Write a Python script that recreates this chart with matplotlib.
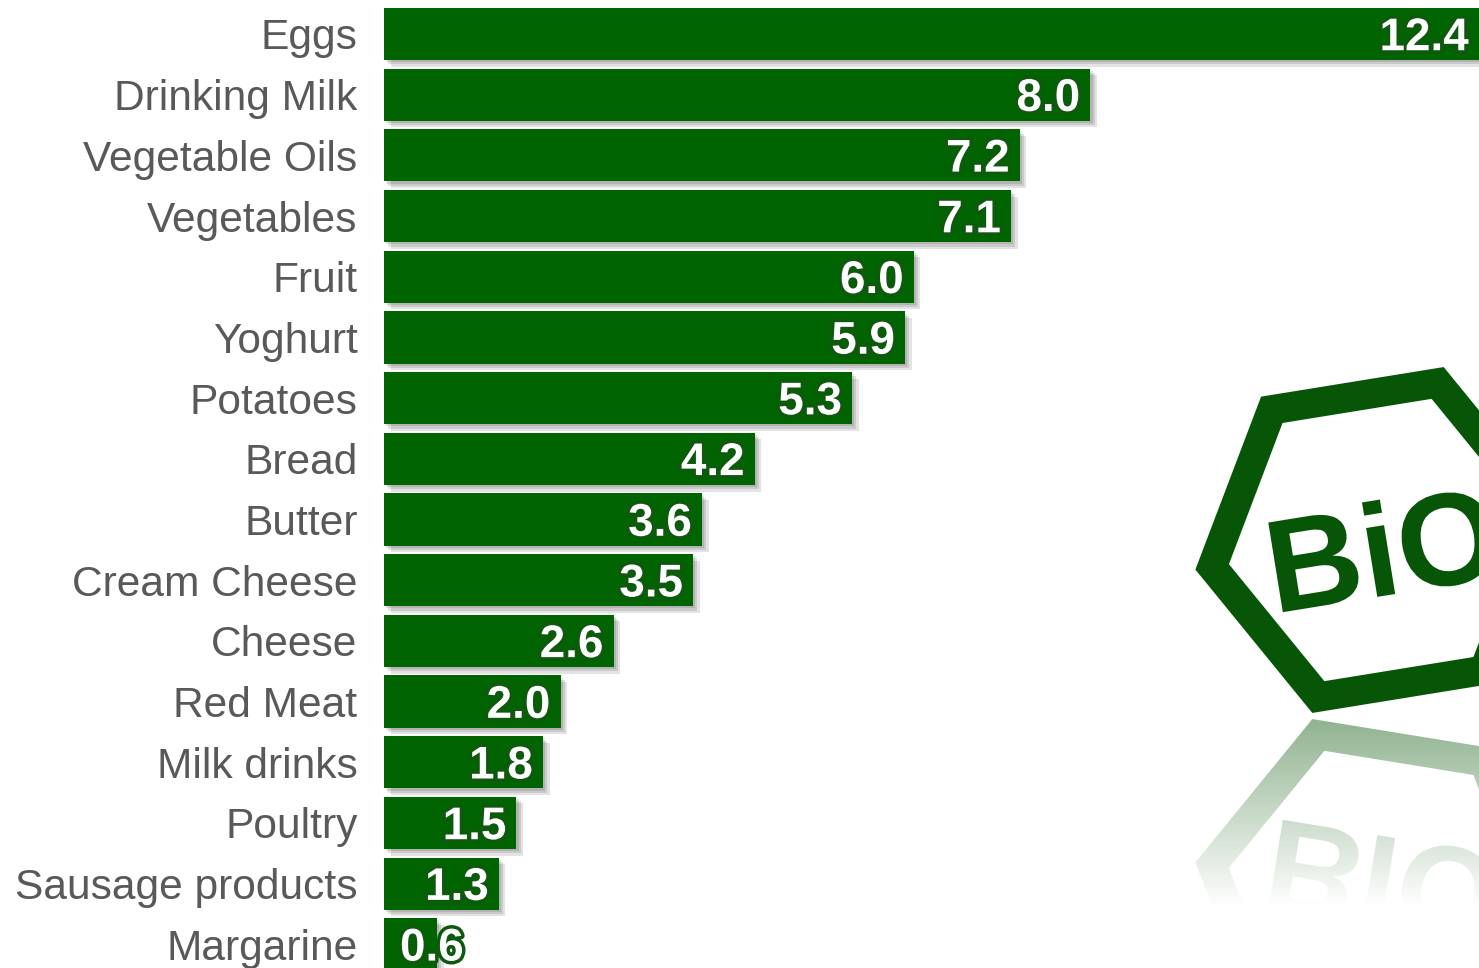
import numpy as np
import matplotlib.pyplot as plt
import matplotlib.patheffects as pe
from matplotlib.patches import PathPatch, Rectangle
from matplotlib.path import Path
from matplotlib.textpath import TextPath
from matplotlib.font_manager import FontProperties
from matplotlib.transforms import Affine2D

foods = ["Eggs", "Drinking Milk", "Vegetable Oils", "Vegetables", "Fruit", "Yoghurt",
         "Potatoes", "Bread", "Butter", "Cream Cheese", "Cheese", "Red Meat",
         "Milk drinks", "Poultry", "Sausage products", "Margarine"]
amounts = [12.4, 8.0, 7.2, 7.1, 6.0, 5.9, 5.3, 4.2, 3.6, 3.5, 2.6, 2.0, 1.8, 1.5, 1.3, 0.6]

bar_green = "#006400"
logo_green = "#075507"
W, H = 1479, 968

plt.rcParams['font.family'] = ['Liberation Sans', 'DejaVu Sans']
fig = plt.figure(figsize=(W / 100, H / 100), dpi=100)

# --- bars ---
ax = fig.add_axes([384 / W, 0, 1 - 384 / W, 1])
ax.patch.set_visible(False)
y = np.arange(len(foods))
vals = np.array(amounts)
px_x = 12.4 / (W - 384)   # data units per pixel
px_y = 1 / 60.7
for k in range(3):
    d = (k + 1) * 2.2
    ax.barh(y + d * px_y, vals, left=d * px_x, height=0.86,
            color="black", alpha=0.11, lw=0)
ax.barh(y, vals, height=0.86, color=bar_green, lw=0)

for i, v in enumerate(amounts):
    if v < 1.0:
        x, ha = 16 * px_x, "left"
    else:
        x, ha = v - 10 * px_x, "right"
    ax.text(x, i + 0.07, f"{v:.1f}", ha=ha, va="center", color="white",
            fontsize=33, fontweight="bold",
            path_effects=[pe.withStroke(linewidth=5, foreground="#0d5a0d")])

ax.set_xlim(0, 12.4)
ax.set_ylim(15.39, -0.56)
ax.set_yticks(y, foods, fontsize=30.6, color="#595959")
ax.set_xticks([])
ax.tick_params(length=0, pad=19)
for s in ax.spines.values():
    s.set_visible(False)

# --- BIO logo with reflection ---
ov = fig.add_axes([0, 0, 1, 1], zorder=3)
ov.patch.set_visible(False)
ov.axis("off")

cx, cy = 1378, 540
ang = np.deg2rad(170.8 + 60 * np.arange(6))
outer = np.column_stack([cx + 185 * np.cos(ang), cy + 185 * np.sin(ang)])
inner = np.column_stack([cx + 151 * np.cos(ang), cy + 151 * np.sin(ang)])[::-1]
ring_verts = np.vstack([outer, outer[:1], inner, inner[:1]])
ring_codes = ([Path.MOVETO] + [Path.LINETO] * 5 + [Path.CLOSEPOLY]) * 2
ring = Path(ring_verts, ring_codes)
mirror_y = 716

tp = TextPath((0, 0), "BiO", size=132,
              prop=FontProperties(family="Liberation Sans", weight="bold"))
bb = tp.get_extents()
t_tr = (Affine2D().translate(-(bb.x0 + bb.x1) / 2, -(bb.y0 + bb.y1) / 2)
        .scale(1, -1).rotate_deg(-9.2).translate(cx + 6, cy + 8))
mir = Affine2D().scale(1, -1).translate(0, 2 * mirror_y)

for refl in (False, True):
    hexpath = ring
    path = t_tr.transform_path(tp)
    if refl:
        hexpath = mir.transform_path(hexpath)
        path = mir.transform_path(path)
    ov.add_patch(PathPatch(hexpath, facecolor=logo_green, lw=0))
    ov.add_patch(PathPatch(path, facecolor=logo_green, lw=0))

# fade the reflection out
grad = np.ones((200, 2, 4))
grad[:, :, 3] = np.linspace(0.55, 1.0, 200)[:, None]
ov.imshow(grad, extent=(1150, W, 905, mirror_y), origin="upper",
          aspect="auto", interpolation="bilinear", zorder=5)
ov.add_patch(Rectangle((1150, 904), W - 1150, H - 904, color="white", lw=0, zorder=5))

ov.set_xlim(0, W)
ov.set_ylim(H, 0)

fig.savefig("out.png", dpi=100)
